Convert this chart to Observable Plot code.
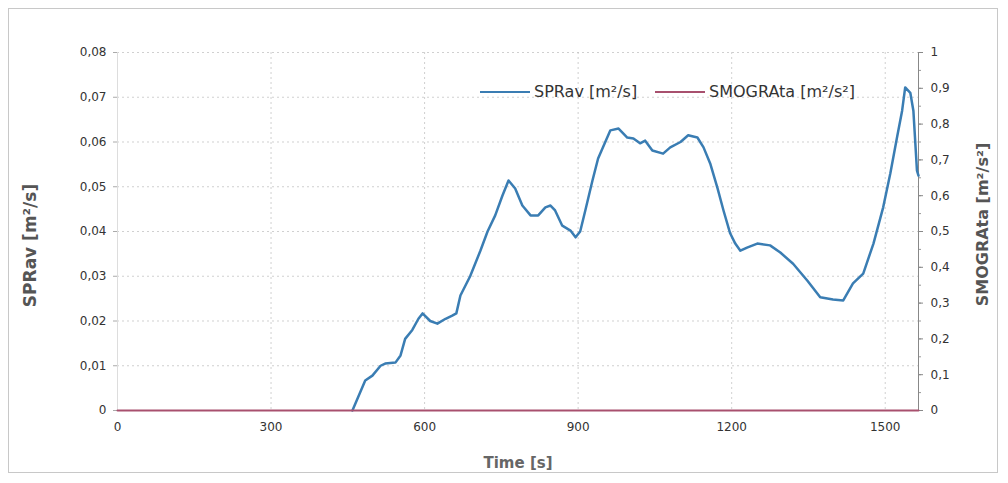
<!DOCTYPE html>
<html>
<head>
<meta charset="utf-8">
<script src="https://cdn.jsdelivr.net/npm/d3@7"></script>
<script src="https://cdn.jsdelivr.net/npm/@observablehq/plot@0.6"></script>
<style>
  html, body { margin: 0; padding: 0; background: #fff; }
  #wrap { position: relative; width: 1008px; height: 483px; font-family: "DejaVu Sans", sans-serif; }
  #frame { position: absolute; left: 8px; top: 8px; width: 990px; height: 465px; border: 1px solid #c8c8c8; box-sizing: border-box; pointer-events: none; }
  .leg { position: absolute; top: 82px; display: flex; align-items: center; font-size: 16px; color: #333; }
  .leg span.sw { display: inline-block; width: 50px; height: 0; border-top: 2.5px solid; margin-right: 4px; }
</style>
</head>
<body>
<div id="wrap"><div id="frame"></div></div>
<script>
// SPRav [m²/s] vs time [s]
const time = [459, 484, 498, 514, 523, 543, 553, 562, 576, 588, 596, 611, 625, 641, 654, 662, 670, 689, 709, 723, 738, 752, 764, 777, 791, 807, 822, 836, 846, 855, 869, 885, 895, 904, 914, 928, 939, 953, 963, 979, 996, 1008, 1021, 1031, 1045, 1066, 1080, 1100, 1115, 1133, 1145, 1158, 1172, 1184, 1197, 1207, 1217, 1230, 1250, 1275, 1295, 1320, 1348, 1373, 1398, 1418, 1437, 1457, 1477, 1496, 1510, 1523, 1533, 1539, 1549, 1555, 1562, 1565];
const spRav = [0, 0.0067, 0.0078, 0.0100, 0.0105, 0.0107, 0.0123, 0.0160, 0.0180, 0.0205, 0.0217, 0.0200, 0.0194, 0.0205, 0.0212, 0.0217, 0.0257, 0.0300, 0.0357, 0.0400, 0.0436, 0.0480, 0.0514, 0.0496, 0.0458, 0.0436, 0.0436, 0.0454, 0.0458, 0.0447, 0.0413, 0.0402, 0.0387, 0.0400, 0.0447, 0.0514, 0.0563, 0.0600, 0.0626, 0.0630, 0.0610, 0.0608, 0.0597, 0.0603, 0.0581, 0.0574, 0.0588, 0.0600, 0.0615, 0.0610, 0.0588, 0.0552, 0.0498, 0.0447, 0.0396, 0.0373, 0.0357, 0.0364, 0.0373, 0.0369, 0.0353, 0.0328, 0.0290, 0.0253, 0.0248, 0.0246, 0.0284, 0.0306, 0.0373, 0.0454, 0.0530, 0.0610, 0.0670, 0.0722, 0.0710, 0.0670, 0.0536, 0.0525];
// SMOGRAta [m²/s²] (right axis, stays at 0)
const smogTime = [0, 1565];
const smogRata = [0, 0];

const xTicks = [0, 300, 600, 900, 1200, 1500];
const yLeftTicks = [0, 0.01, 0.02, 0.03, 0.04, 0.05, 0.06, 0.07, 0.08];
const yRightTicks = [0, 0.1, 0.2, 0.3, 0.4, 0.5, 0.6, 0.7, 0.8, 0.9, 1];
const yRightMinor = d3.range(0, 1.0001, 0.05);
const rightMax = 1, leftMax = 0.08;
const toLeft = v => v / rightMax * leftMax;

const fmt = v => String(+v.toFixed(2)).replace(".", ",");

const spData = time.map((t, i) => ({t, v: spRav[i]}));
const smData = smogTime.map((t, i) => ({t, v: toLeft(smogRata[i])}));

const blue = "#3a7db3", maroon = "#a8506e";
const font = "'DejaVu Sans', sans-serif";

const chart = Plot.plot({
  width: 1008, height: 483,
  marginLeft: 117, marginRight: 90, marginTop: 52, marginBottom: 73,
  style: {fontFamily: font, fontSize: "12px", color: "#333", background: "transparent"},
  x: {domain: [0, 1565]},
  y: {domain: [0, leftMax]},
  marks: [
    Plot.gridY(yLeftTicks.slice(1), {stroke: "#c4c4c4", strokeOpacity: 0.8, strokeDasharray: "2,3"}),
    Plot.gridX(xTicks.slice(1), {stroke: "#c4c4c4", strokeOpacity: 0.8, strokeDasharray: "2,3"}),
    Plot.ruleX([0], {stroke: "#ddd"}),
    Plot.axisY(yLeftTicks, {anchor: "left", tickFormat: fmt, tickSize: 4, tickPadding: 7, stroke: "#aaa", fill: "#333", fontSize: 12, label: null}),
    Plot.axisY(yRightMinor.map(toLeft), {anchor: "right", tickFormat: () => "", tickSize: 2, stroke: "#999", label: null}),
    Plot.axisY(yRightTicks.map(toLeft), {anchor: "right", tickFormat: d => fmt(d / leftMax * rightMax), tickSize: 4, tickPadding: 8, stroke: "#888", fill: "#333", fontSize: 12, label: null}),
    Plot.ruleX([1565], {stroke: "#888"}),
    Plot.axisX(xTicks, {anchor: "bottom", tickFormat: d => String(d), tickSize: 0, tickPadding: 12, fill: "#333", fontSize: 12, label: null}),
    Plot.line(spData, {x: "t", y: "v", stroke: blue, strokeWidth: 2.5}),
    Plot.line(smData, {x: "t", y: "v", stroke: maroon, strokeWidth: 2}),
    Plot.text(["SPRav [m²/s]"], {frameAnchor: "left", dx: -87, dy: 14, rotate: -90, textAnchor: "middle", lineAnchor: "middle", fontSize: 17, fontWeight: "bold", fill: "#555"}),
    Plot.text(["SMOGRAta [m²/s²]"], {frameAnchor: "right", dx: 64, dy: -7, rotate: -90, textAnchor: "middle", lineAnchor: "middle", fontSize: 16, fontWeight: "bold", fill: "#555"}),
    Plot.text(["Time [s]"], {frameAnchor: "bottom", dy: 53, textAnchor: "middle", lineAnchor: "middle", fontSize: 15, fontWeight: "bold", fill: "#666"})
  ]
});
const wrap = document.getElementById("wrap");
wrap.insertBefore(chart, wrap.firstChild);

const legendItems = [
  {label: "SPRav [m²/s]", color: blue, left: 480},
  {label: "SMOGRAta [m²/s²]", color: maroon, left: 655}
];
for (const it of legendItems) {
  const d = document.createElement("div");
  d.className = "leg";
  d.style.left = it.left + "px";
  const sw = document.createElement("span");
  sw.className = "sw";
  sw.style.borderTopColor = it.color;
  d.appendChild(sw);
  d.appendChild(document.createTextNode(it.label));
  wrap.appendChild(d);
}
</script>
</body>
</html>
